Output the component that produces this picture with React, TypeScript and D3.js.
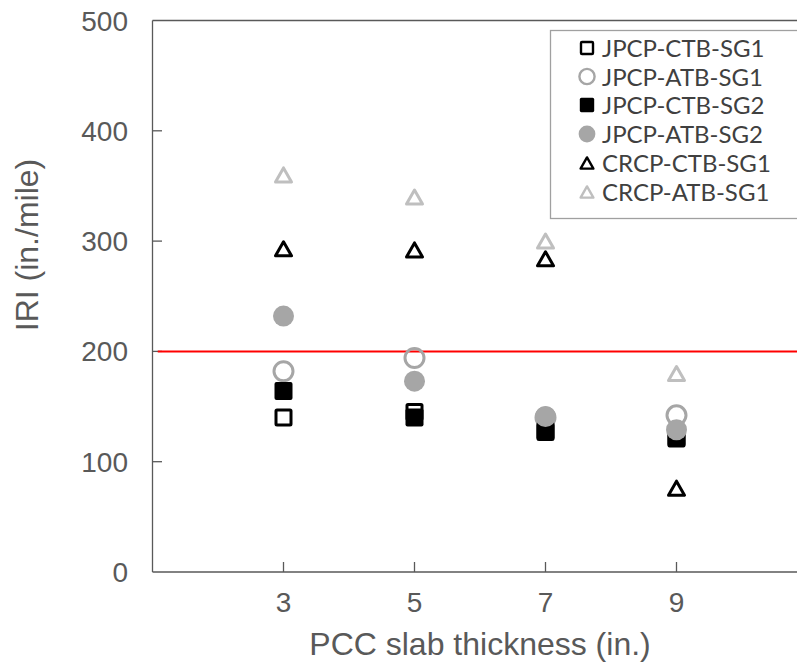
import React from "react";
import * as d3 from "d3";

const thickness = [3, 5, 7, 9];
const jpcpCtbSg1 = [140, 145, 127, 122];
const jpcpAtbSg1 = [182, 194, 140, 142];
const jpcpCtbSg2 = [164, 140, 128, 121];
const jpcpAtbSg2 = [232, 173, 141, 129];
const crcpCtbSg1 = [293, 292, 284, 76];
const crcpAtbSg1 = [360, 340, 300, 180];
const yTicks = [0, 100, 200, 300, 400, 500];
const xTicks = [3, 5, 7, 9];
const threshold = 200;

type Kind = "sqOpen" | "circOpen" | "sqFill" | "circFill" | "triBlack" | "triLight";
const series: { name: string; values: number[]; kind: Kind }[] = [
  { name: "JPCP-CTB-SG1", values: jpcpCtbSg1, kind: "sqOpen" },
  { name: "JPCP-ATB-SG1", values: jpcpAtbSg1, kind: "circOpen" },
  { name: "JPCP-CTB-SG2", values: jpcpCtbSg2, kind: "sqFill" },
  { name: "JPCP-ATB-SG2", values: jpcpAtbSg2, kind: "circFill" },
  { name: "CRCP-CTB-SG1", values: crcpCtbSg1, kind: "triBlack" },
  { name: "CRCP-ATB-SG1", values: crcpAtbSg1, kind: "triLight" },
];

const W = 797;
const H = 668;
const x = d3.scaleLinear().domain([1, 11]).range([152.5, 807.5]);
const y = d3.scaleLinear().domain([0, 500]).range([572, 20.5]);

const AX = "#595959";

function Marker({ kind, cx, cy, s }: { kind: Kind; cx: number; cy: number; s: number }) {
  if (kind === "sqOpen") {
    const a = 15 * s;
    return <rect x={cx - a / 2} y={cy - a / 2} width={a} height={a} fill="#fff" stroke="#000" strokeWidth={3 * s} rx={1} />;
  }
  if (kind === "sqFill") {
    const a = 18 * s;
    return <rect x={cx - a / 2} y={cy - a / 2} width={a} height={a} fill="#000" rx={2 * s} />;
  }
  if (kind === "circOpen") {
    return <circle cx={cx} cy={cy} r={9.5 * s} fill="none" stroke="#a6a6a6" strokeWidth={3 * s} />;
  }
  if (kind === "circFill") {
    return <circle cx={cx} cy={cy} r={10.5 * s} fill="#a6a6a6" />;
  }
  const hw = 8 * s;
  const hh = 7 * s;
  const p = `M${cx},${cy - hh} L${cx + hw},${cy + hh} L${cx - hw},${cy + hh} Z`;
  return (
    <path
      d={p}
      fill="none"
      stroke={kind === "triBlack" ? "#000" : "#bfbfbf"}
      strokeWidth={3 * s}
      strokeLinejoin="round"
    />
  );
}

export default function App() {
  const legendRows = [48, 76.5, 105, 134, 163, 192];
  return (
    <svg
      width={W}
      height={H}
      style={{ position: "absolute", left: 0, top: 0, background: "#fff" }}
      fontFamily="'Liberation Sans', Arial, sans-serif"
    >
      <rect x={0} y={0} width={W} height={H} fill="#fff" />
      <line x1={152.5} x2={W} y1={20.5} y2={20.5} stroke={AX} strokeWidth={1.3} />
      <line x1={152.5} x2={152.5} y1={20.5} y2={572} stroke={AX} strokeWidth={1.3} />
      <line x1={152.5} x2={W} y1={572} y2={572} stroke={AX} strokeWidth={1.3} />
      {yTicks.slice(1, -1).map((t) => (
        <line key={t} x1={152.5} x2={162} y1={y(t)} y2={y(t)} stroke={AX} strokeWidth={1.3} />
      ))}
      {xTicks.map((t) => (
        <line key={t} x1={x(t)} x2={x(t)} y1={562} y2={572} stroke={AX} strokeWidth={1.3} />
      ))}
      {yTicks.map((t) => (
        <text key={t} x={128} y={y(t) + 10} textAnchor="end" fontSize={28} fill={AX}>
          {t}
        </text>
      ))}
      {xTicks.map((t) => (
        <text key={t} x={x(t)} y={612} textAnchor="middle" fontSize={28} fill={AX}>
          {t}
        </text>
      ))}
      <text x={480} y={655} textAnchor="middle" fontSize={32} fill={AX}>
        PCC slab thickness (in.)
      </text>
      <text transform={`translate(38,245) rotate(-90)`} textAnchor="middle" fontSize={32} fill={AX}>
        IRI (in./mile)
      </text>
      <line x1={x(1.08)} x2={W} y1={y(threshold)} y2={y(threshold)} stroke="#ff0000" strokeWidth={2} />
      {series.map((s) =>
        s.values.map((v, i) => (
          <Marker key={s.name + i} kind={s.kind} cx={x(thickness[i])} cy={y(v)} s={1} />
        ))
      )}
      <rect x={550.5} y={30.5} width={260} height={188} fill="#fff" stroke="#a0a0a0" strokeWidth={1.3} />
      {series.map((s, i) => (
        <g key={s.name}>
          <Marker kind={s.kind} cx={587} cy={legendRows[i]} s={0.8} />
          <text x={602} y={legendRows[i] + 9} fontSize={24} fill="#404040" fontFamily="Lato, 'Open Sans', sans-serif">
            {s.name}
          </text>
        </g>
      ))}
    </svg>
  );
}
